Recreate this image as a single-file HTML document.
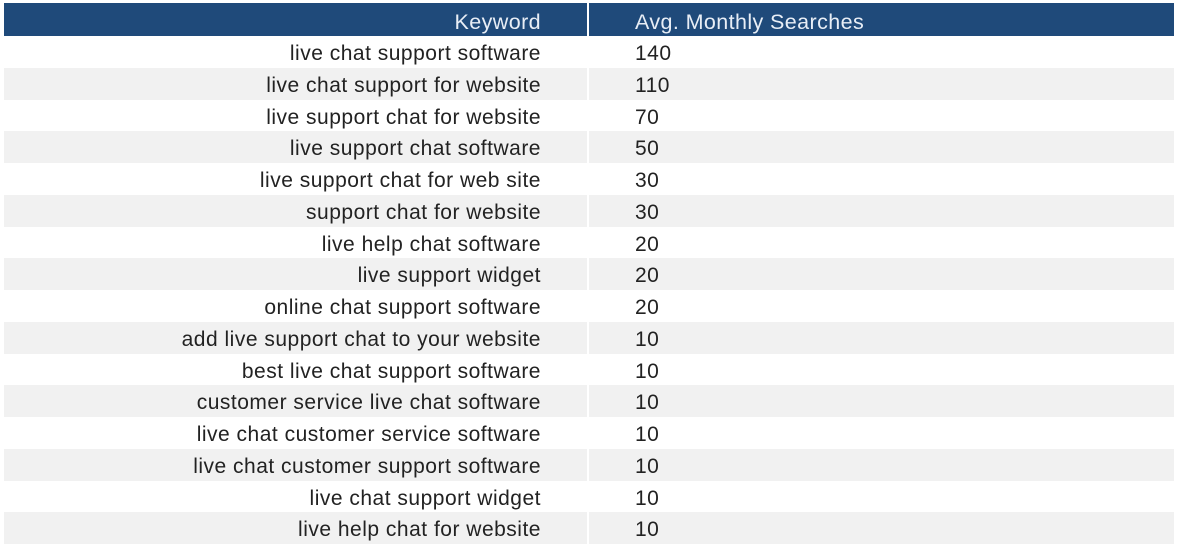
<!DOCTYPE html>
<html><head><style>
body{margin:0;width:1178px;height:556px;background:#fff;font-family:"Liberation Sans",sans-serif;overflow:hidden}
.t{position:absolute;left:4px;top:3px;width:1170px}
.r{position:relative;height:31.75px;display:flex;font-size:21px;letter-spacing:0.5px;color:#222;line-height:35px}
.r.g{background:#f1f1f1}
.h{height:33px;background:#1f4a7a;color:#e8eef6;font-size:21.5px;line-height:38px;letter-spacing:0.4px}
.k{text-align:right;border-right:2px solid #fff;padding-right:46px;box-sizing:border-box;width:585px;white-space:nowrap}
.v{padding-left:46px;white-space:nowrap}
</style></head><body><div class="t">
<div class="r h"><div class="k">Keyword</div><div class="v">Avg. Monthly Searches</div></div>
<div class="r"><div class="k">live chat support software</div><div class="v">140</div></div>
<div class="r g"><div class="k">live chat support for website</div><div class="v">110</div></div>
<div class="r"><div class="k">live support chat for website</div><div class="v">70</div></div>
<div class="r g"><div class="k">live support chat software</div><div class="v">50</div></div>
<div class="r"><div class="k">live support chat for web site</div><div class="v">30</div></div>
<div class="r g"><div class="k">support chat for website</div><div class="v">30</div></div>
<div class="r"><div class="k">live help chat software</div><div class="v">20</div></div>
<div class="r g"><div class="k">live support widget</div><div class="v">20</div></div>
<div class="r"><div class="k">online chat support software</div><div class="v">20</div></div>
<div class="r g"><div class="k">add live support chat to your website</div><div class="v">10</div></div>
<div class="r"><div class="k">best live chat support software</div><div class="v">10</div></div>
<div class="r g"><div class="k">customer service live chat software</div><div class="v">10</div></div>
<div class="r"><div class="k">live chat customer service software</div><div class="v">10</div></div>
<div class="r g"><div class="k">live chat customer support software</div><div class="v">10</div></div>
<div class="r"><div class="k">live chat support widget</div><div class="v">10</div></div>
<div class="r g"><div class="k">live help chat for website</div><div class="v">10</div></div>
</div></body></html>
